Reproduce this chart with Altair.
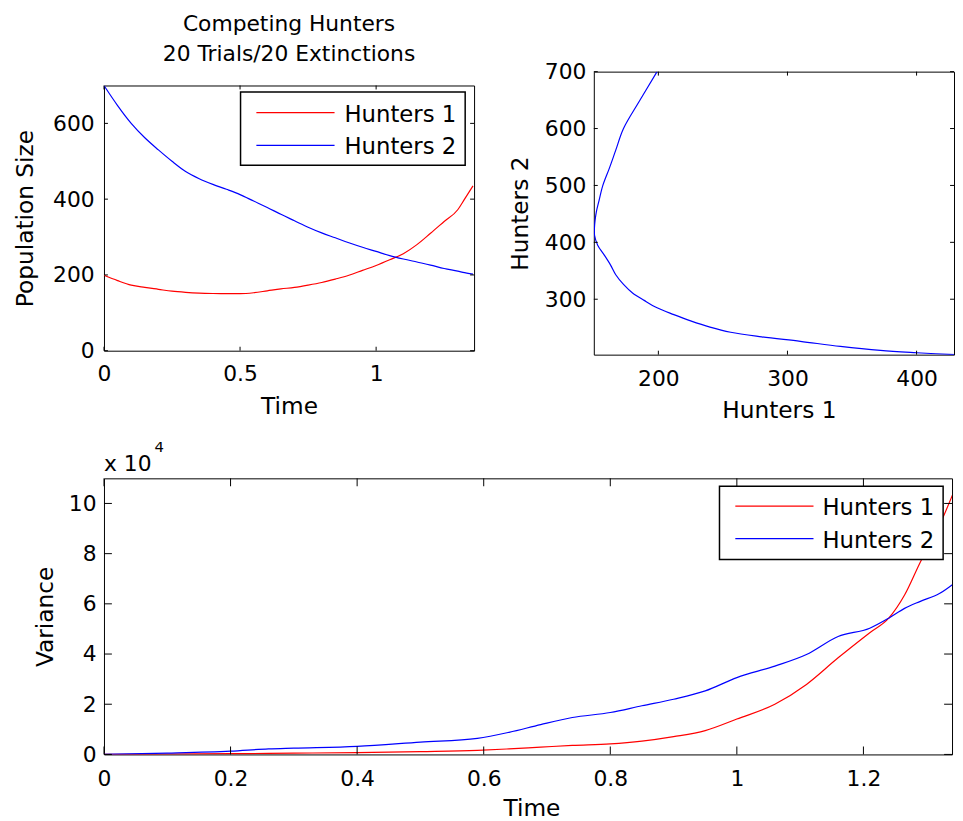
import altair as alt
import pandas as pd

FONT = "DejaVu Sans"
FS = 22          # tick labels / title
FS_TITLE = 23.5  # axis titles
FS_LEG = 23      # legend labels
RED = "#ff0000"
BLUE = "#0000ff"

# ---------------- data ----------------
# mean population sizes over time (top-left panel, also used for phase plot)
t_mean = [0, 0.05, 0.1, 0.15, 0.2, 0.25, 0.3, 0.35, 0.4, 0.45, 0.5, 0.55, 0.6, 0.65,
          0.7, 0.75, 0.8, 0.85, 0.9, 0.95, 1.0, 1.05, 1.1, 1.15, 1.2, 1.25, 1.3, 1.325, 1.356]
h1_mean = [199, 185, 173, 167, 162, 157, 154, 152, 151, 150.5, 150.6, 153, 158, 163,
           167, 173, 180, 189, 199, 212, 225, 240, 256, 280, 310, 341, 372, 400, 435]
h2_mean = [700, 647, 600, 562, 530, 500, 473, 454, 439, 426, 412, 395, 378, 360,
           343, 326, 311, 298, 285, 273, 262, 251, 242, 234, 226, 217, 210, 206, 202]

# variance over time (bottom panel), in units of 10^4
t_var = [0, 0.1, 0.2, 0.26, 0.3, 0.4, 0.5, 0.59, 0.64, 0.69, 0.74, 0.8, 0.85, 0.9,
         0.95, 1.0, 1.06, 1.11, 1.16, 1.21, 1.24, 1.265, 1.29, 1.32, 1.345]
var_h1 = [0, 0.01, 0.03, 0.04, 0.05, 0.07, 0.11, 0.16, 0.22, 0.29, 0.36, 0.42, 0.53, 0.71,
          0.95, 1.41, 2.00, 2.79, 3.85, 4.85, 5.43, 6.35, 7.67, 9.12, 10.6]
var_h2 = [0, 0.05, 0.13, 0.22, 0.25, 0.32, 0.49, 0.64, 0.88, 1.19, 1.47, 1.67, 1.94, 2.20,
          2.53, 3.06, 3.52, 3.98, 4.70, 5.03, 5.43, 5.82, 6.10, 6.41, 6.85]

series = ["Hunters 1", "Hunters 2"]
title_lines = ["Competing Hunters", "20 Trials/20 Extinctions"]

# tick values
tl_xticks = [0, 0.5, 1]
tl_yticks = [0, 200, 400, 600]
tr_xticks = [200, 300, 400]
tr_yticks = [300, 400, 500, 600, 700]
b_xticks = [0, 0.2, 0.4, 0.6, 0.8, 1, 1.2]
b_yticks = [0, 2, 4, 6, 8, 10]

# ---------------- frames ----------------
W_TL, H_TL = 374, 268
W_TR, H_TR = 364, 286
W_B, H_B = 857, 279

color_scale = alt.Scale(domain=series, range=[RED, BLUE])


def tick_layers(xvals, yvals, xscale, yscale, W, H, L):
    xdf = pd.DataFrame({"tick": xvals})
    ydf = pd.DataFrame({"tick": yvals})
    xb = alt.Chart(xdf).mark_rule(color="black", strokeWidth=1).encode(
        x=alt.X("tick:Q", scale=xscale), y=alt.value(H), y2=alt.value(H - L))
    xt = alt.Chart(xdf).mark_rule(color="black", strokeWidth=1).encode(
        x=alt.X("tick:Q", scale=xscale), y=alt.value(0), y2=alt.value(L))
    yl = alt.Chart(ydf).mark_rule(color="black", strokeWidth=1).encode(
        y=alt.Y("tick:Q", scale=yscale), x=alt.value(0), x2=alt.value(L))
    yr = alt.Chart(ydf).mark_rule(color="black", strokeWidth=1).encode(
        y=alt.Y("tick:Q", scale=yscale), x=alt.value(W - L), x2=alt.value(W))
    return [xb, xt, yl, yr]


def legend_layers(lx, ly, w, h, sym_x0, sym_x1, row_y, lab_x, lab_dy):
    """MATLAB-style boxed legend: box, coloured line samples and labels."""
    box = alt.Chart(pd.DataFrame({"b": [0]})).mark_rect(
        fill="white", stroke="black", strokeWidth=1.5
    ).encode(x=alt.value(lx), x2=alt.value(lx + w), y=alt.value(ly), y2=alt.value(ly + h))
    layers = [box]
    df_leg = pd.DataFrame({"series": series})
    for i, name in enumerate(series):
        one = alt.Chart(df_leg).transform_filter(alt.datum.series == name)
        layers.append(one.mark_rule(strokeWidth=1.2).encode(
            x=alt.value(sym_x0), x2=alt.value(sym_x1), y=alt.value(row_y[i]),
            color=alt.Color("series:N", scale=color_scale, legend=None)))
        layers.append(one.mark_text(
            font=FONT, fontSize=FS_LEG, align="left", baseline="alphabetic", color="black"
        ).encode(text="series:N", x=alt.value(lab_x), y=alt.value(row_y[i] + lab_dy)))
    return layers


# ---------------- top-left: population size ----------------
n = len(t_mean)
df_mean = pd.DataFrame({
    "t": t_mean + t_mean,
    "value": h1_mean + h2_mean,
    "series": [series[0]] * n + [series[1]] * n,
})
xs_tl = alt.Scale(domain=[0, 1.36], nice=False, zero=False)
ys_tl = alt.Scale(domain=[0, 700], nice=False, zero=False)

lines_tl = alt.Chart(df_mean).mark_line(strokeWidth=1.2, clip=True, interpolate="monotone").encode(
    x=alt.X("t:Q", scale=xs_tl, axis=alt.Axis(values=tl_xticks, format="~g", title="Time",
                                              labelPadding=13, titlePadding=10)),
    y=alt.Y("value:Q", scale=ys_tl, axis=alt.Axis(values=tl_yticks, title="Population Size",
                                                  labelPadding=10, titlePadding=15)),
    color=alt.Color("series:N", scale=color_scale, legend=None),
)
tl = alt.layer(
    lines_tl,
    *tick_layers(tl_xticks, tl_yticks, xs_tl, ys_tl, W_TL, H_TL, 4),
    *legend_layers(138, 6.5, 227, 74, 154, 233, [27.5, 60.5], 243, 9),
).properties(width=W_TL, height=H_TL)

# title block (sits above the top-left panel, offsets it downwards)
df_title = pd.DataFrame({"text": ["\n".join(title_lines)]})
title_block = alt.Chart(df_title).mark_text(
    font=FONT, fontSize=FS, align="center", baseline="alphabetic", color="black",
    lineBreak="\n", lineHeight=30,
).encode(
    text="text:N", x=alt.value(W_TL / 2), y=alt.value(-41),
).properties(width=W_TL, height=13, view=alt.ViewBackground(strokeOpacity=0))

tl_block = alt.vconcat(title_block, tl, spacing=0)

# ---------------- top-right: phase plot ----------------
df_phase = pd.DataFrame({"t": t_mean, "h1": h1_mean, "h2": h2_mean})
xs_tr = alt.Scale(domain=[150, 429], nice=False, zero=False)
ys_tr = alt.Scale(domain=[202.6, 700], nice=False, zero=False)
lines_tr = alt.Chart(df_phase).mark_line(
    color=BLUE, strokeWidth=1.2, clip=True, interpolate="catmull-rom"
).encode(
    x=alt.X("h1:Q", scale=xs_tr, axis=alt.Axis(values=tr_xticks, title="Hunters 1",
                                               labelPadding=14, titlePadding=10, titleX=187)),
    y=alt.Y("h2:Q", scale=ys_tr, axis=alt.Axis(values=tr_yticks, title="Hunters 2",
                                               labelPadding=8, titlePadding=12)),
    order=alt.Order("t:Q"),
)
tr = alt.layer(lines_tr, *tick_layers(tr_xticks, tr_yticks, xs_tr, ys_tr, W_TR, H_TR, 4)).properties(
    width=W_TR, height=H_TR)

# ---------------- bottom: variance ----------------
m = len(t_var)
df_var = pd.DataFrame({
    "t": t_var + t_var,
    "value": var_h1 + var_h2,
    "series": [series[0]] * m + [series[1]] * m,
})
xs_b = alt.Scale(domain=[0, 1.34], nice=False, zero=False)
ys_b = alt.Scale(domain=[0, 11], nice=False, zero=False)
lines_b = alt.Chart(df_var).mark_line(strokeWidth=1.2, clip=True, interpolate="monotone").encode(
    x=alt.X("t:Q", scale=xs_b, axis=alt.Axis(values=b_xticks, format="~g", title="Time",
                                             labelPadding=14, titlePadding=8, titleX=432)),
    y=alt.Y("value:Q", scale=ys_b, axis=alt.Axis(values=b_yticks, format="d", title="Variance",
                                                 labelPadding=8, titlePadding=11)),
    color=alt.Color("series:N", scale=color_scale, legend=None),
)
exp_base = alt.Chart(pd.DataFrame({"s": ["x 10"]})).mark_text(
    font=FONT, fontSize=FS, align="left", baseline="alphabetic", color="black"
).encode(text="s:N", x=alt.value(0), y=alt.value(-7))
exp_pow = alt.Chart(pd.DataFrame({"s": ["4"]})).mark_text(
    font=FONT, fontSize=15, align="left", baseline="alphabetic", color="black"
).encode(text="s:N", x=alt.value(51), y=alt.value(-27))

bottom = alt.layer(
    lines_b, exp_base, exp_pow,
    *tick_layers(b_xticks, b_yticks, xs_b, ys_b, W_B, H_B, 8),
    *legend_layers(622, 8, 226, 74, 638, 717, [28, 61], 726, 9),
).properties(width=W_B, height=H_B)

# ---------------- compose ----------------
top_row = alt.hconcat(tl_block, tr, spacing=33).resolve_scale(color="independent")
chart = alt.vconcat(top_row, bottom, spacing=16).resolve_scale(color="independent")

chart = chart.properties(
    padding={"left": 5, "top": 1, "right": 0, "bottom": 0},
    background="white",
).configure_view(
    stroke="black", strokeWidth=1
).configure_axis(
    labelFont=FONT, labelFontSize=FS, labelColor="black", labelFlush=False,
    titleFont=FONT, titleFontSize=FS_TITLE, titleFontWeight="normal", titleColor="black",
    domain=False, ticks=False, tickSize=0, grid=False,
)

chart.save("out.html", embed_options={"renderer": "svg", "actions": False})
